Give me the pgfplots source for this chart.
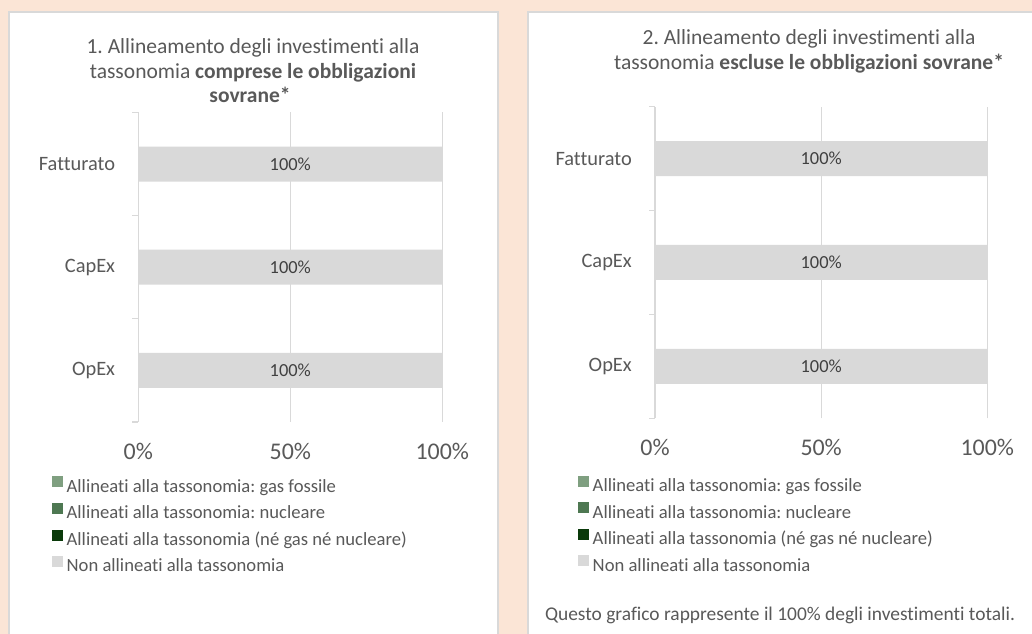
\documentclass[border=0pt]{standalone}
\usepackage{fontspec}
\setmainfont{Carlito}[Ligatures={NoCommon}]
\usepackage{pgfplots}
\usepackage{pgfplotstable}
\pgfplotsset{compat=1.18}
\frenchspacing
\definecolor{bgc}{HTML}{FBE5D6}
\definecolor{panelc}{HTML}{D9D9D9}
\definecolor{gridc}{HTML}{D9D9D9}
\definecolor{txt}{HTML}{595959}
\definecolor{lbl}{HTML}{404040}
\definecolor{gasc}{HTML}{7F9F80}
\definecolor{nucc}{HTML}{4E7852}
\definecolor{altc}{HTML}{0A3A0A}
\definecolor{nonc}{HTML}{D9D9D9}

\pgfplotstableread{
y gas nuc alt non
1 0 0 0 100
2 0 0 0 100
3 0 0 0 100
}\dataL
\pgfplotstableread{
y gas nuc alt non
1 0 0 0 100
2 0 0 0 100
3 0 0 0 100
}\dataR

\pgfplotsset{
 mystyle/.style={
  scale only axis, xbar stacked, bar width=35bp,
  xmin=0,xmax=100,ymin=0.5,ymax=3.5,
  xtick={0,50,100}, xticklabels={0\%,50\%,100\%},
  ytick={1,2,3}, yticklabels={OpEx,CapEx,Fatturato},
  minor ytick={0.5,1.5,2.5,3.5},
  major tick length=0pt, minor tick length=6bp, tick align=outside,
  axis lines*=left,
  x axis line style={draw=none},
  y axis line style={draw=gridc, line width=1.3bp},
  xmajorgrids, grid style={draw=gridc, line width=1.3bp},
  minor tick style={draw=gridc, line width=1.3bp},
  /pgf/number format/assume math mode=true,
  xticklabel style={font=\fontsize{24}{28}\selectfont, text=txt, inner sep=0pt, yshift=-21bp},
  yticklabel style={font=\fontsize{20.5}{24}\selectfont, text=txt, inner sep=0pt, xshift=-23bp},
  legend cell align=left,
  legend style={draw=none, fill=none, inner sep=0pt, outer sep=0pt, anchor=north west,
    font=\fontsize{18.7}{22}\selectfont, text=txt, row sep=6.8bp,
    nodes={inner sep=0pt, text height=13bp, text depth=4bp},
    /tikz/every odd column/.append style={column sep=4bp}},
  legend image code/.code={\fill[##1] (0bp,0.3bp) rectangle (11bp,11.3bp);},
  every node near coord/.append style={anchor=center, font=\fontsize{18.5}{22}\selectfont, text=lbl},
 }
}

\begin{document}
\begin{tikzpicture}[x=1bp,y=1bp]
\fill[bgc] (0,0) rectangle (1032,634);
\path[use as bounding box] (0,0) rectangle (1032,634);
\filldraw[fill=white, draw=panelc, line width=1.5bp] (9,622) rectangle (498,-10);
\filldraw[fill=white, draw=panelc, line width=1.5bp] (528,622) rectangle (1045,-10);

\begin{axis}[mystyle, at={(138.3bp,212bp)}, anchor=south west, width=304bp, height=309.5bp,
  legend style={at={(-0.2849,-0.1755)}}]
\addplot[fill=gasc, draw=none] table[x=gas, y=y] {\dataL};
\addplot[fill=nucc, draw=none] table[x=nuc, y=y] {\dataL};
\addplot[fill=altc, draw=none] table[x=alt, y=y] {\dataL};
\addplot[fill=nonc, draw=none, nodes near coords={\pgfmathprintnumber{\pgfplotspointmeta}\%}, point meta=explicit] table[x=non, y=y, meta=non] {\dataL};
\legend{Allineati alla tassonomia: gas fossile, Allineati alla tassonomia: nucleare, Allineati alla tassonomia (né gas né nucleare), Non allineati alla tassonomia}
\end{axis}

\begin{axis}[mystyle, at={(655bp,215.7bp)}, anchor=south west, width=332.3bp, height=311.6bp,
  legend style={at={(-0.2326,-0.1840)}}]
\addplot[fill=gasc, draw=none] table[x=gas, y=y] {\dataR};
\addplot[fill=nucc, draw=none] table[x=nuc, y=y] {\dataR};
\addplot[fill=altc, draw=none] table[x=alt, y=y] {\dataR};
\addplot[fill=nonc, draw=none, nodes near coords={\pgfmathprintnumber{\pgfplotspointmeta}\%}, point meta=explicit] table[x=non, y=y, meta=non] {\dataR};
\legend{Allineati alla tassonomia: gas fossile, Allineati alla tassonomia: nucleare, Allineati alla tassonomia (né gas né nucleare), Non allineati alla tassonomia}
\end{axis}

\begin{scope}[every node/.style={font=\fontsize{21.6}{25}\selectfont, text=txt, anchor=base, inner sep=0pt}]
\node at (253,634-54) {1. Allineamento degli investimenti alla};
\node at (253,634-78.5) {tassonomia \textbf{comprese le obbligazioni}};
\node at (250,634-103) {\textbf{sovrane*}};
\node at (809,634-45) {2. Allineamento degli investimenti alla};
\node at (809,634-69.5) {tassonomia \textbf{escluse le obbligazioni sovrane*}};
\end{scope}
\node[font=\fontsize{19.5}{23}\selectfont, text=txt, anchor=base, inner sep=0pt] at (780,634-621) {Questo grafico rappresente il 100\% degli investimenti totali.};
\end{tikzpicture}
\end{document}
